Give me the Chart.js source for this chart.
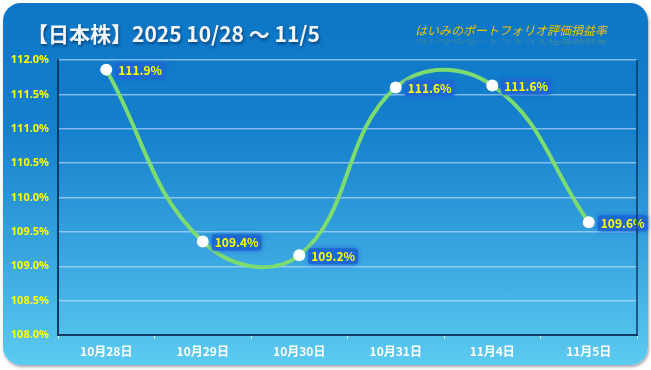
<!DOCTYPE html>
<html>
<head>
<meta charset="utf-8">
<script src="https://cdn.jsdelivr.net/npm/chart.js@4"></script>
<style>
  html, body { margin: 0; padding: 0; background: #fff; }
  #card {
    position: absolute; left: 3px; top: 3px; width: 645px; height: 362px;
    border-radius: 18px;
    background: linear-gradient(to bottom, #0c76c7 0%, #1580cc 35%, #3aa6e0 70%, #5ccbf1 100%);
    box-shadow: 1px 2px 3px rgba(0,0,0,0.35);
  }
  #wrap { position: absolute; left: 0; top: 0; width: 651px; height: 370px; }
</style>
</head>
<body>
<div id="card"></div>
<div id="wrap"><canvas id="chart" width="651" height="370"></canvas></div>
<script>
// data
const dates = ['10月28日', '10月29日', '10月30日', '10月31日', '11月4日', '11月5日'];
const rates = [111.86, 109.36, 109.16, 111.60, 111.63, 109.64];
const yTicks = [108.0, 108.5, 109.0, 109.5, 110.0, 110.5, 111.0, 111.5, 112.0];

const titleText = '【日本株】2025 10/28 ～ 11/5';
const subText = 'はいみのポートフォリオ評価損益率';

const jpFont = "'Noto Sans CJK JP', 'Noto Sans', sans-serif";

// title, subtitle and right frame line
const decoPlugin = {
    id: 'deco',
    afterDraw(chart) {
        const ctx = chart.ctx;
        const area = chart.chartArea;
        ctx.save();
        // right border of plot
        ctx.strokeStyle = '#0b3a66';
        ctx.lineWidth = 1.5;
        ctx.beginPath();
        ctx.moveTo(area.right, area.top);
        ctx.lineTo(area.right, area.bottom);
        ctx.stroke();

        // main title
        ctx.font = 'bold 21px ' + jpFont;
        ctx.textBaseline = 'middle';
        ctx.textAlign = 'left';
        ctx.shadowColor = 'rgba(0,30,70,0.6)';
        ctx.shadowOffsetX = 1;
        ctx.shadowOffsetY = 2;
        ctx.shadowBlur = 3;
        ctx.fillStyle = '#f4f8fc';
        ctx.fillText(titleText, 27, 34);

        // subtitle with faint reflection below it
        ctx.shadowColor = 'transparent';
        ctx.font = 'italic 12px ' + jpFont;
        ctx.textAlign = 'right';
        ctx.save();
        ctx.translate(0, 38);
        ctx.scale(1, -0.6);
        ctx.fillStyle = 'rgba(240,196,0,0.2)';
        ctx.fillText(subText, 607, -6);
        ctx.restore();
        ctx.fillStyle = '#f2c200';
        ctx.fillText(subText, 607, 30);
        ctx.restore();
    }
};

// value labels next to each point
const valueLabels = {
    id: 'valueLabels',
    afterDatasetsDraw(chart) {
        const ctx = chart.ctx;
        const meta = chart.getDatasetMeta(0);
        ctx.save();
        ctx.font = 'bold 12px ' + jpFont;
        ctx.textBaseline = 'middle';
        ctx.textAlign = 'left';
        meta.data.forEach((pt, i) => {
            const txt = rates[i].toFixed(1) + '%';
            const w = ctx.measureText(txt).width;
            const x = pt.x + 12;
            const y = pt.y + 1;
            ctx.shadowColor = 'rgba(30,100,220,0.9)';
            ctx.shadowBlur = 4;
            ctx.fillStyle = '#1e68d4';
            ctx.beginPath();
            ctx.roundRect(x - 3, y - 8, w + 6, 16, 3);
            ctx.fill();
            ctx.shadowBlur = 0;
            ctx.shadowColor = 'transparent';
            ctx.fillStyle = '#ffff00';
            ctx.fillText(txt, x, y);
        });
        ctx.restore();
    }
};

new Chart(document.getElementById('chart'), {
    type: 'line',
    data: {
        labels: dates,
        datasets: [{
            data: rates,
            borderColor: '#7ddc70',
            borderWidth: 4,
            tension: 0.42,
            pointRadius: 6,
            pointBackgroundColor: '#ffffff',
            pointBorderColor: '#ffffff',
            pointBorderWidth: 0,
            fill: false
        }]
    },
    options: {
        responsive: false,
        animation: false,
        layout: { padding: { top: 60, right: 14, left: 0, bottom: 0 } },
        plugins: {
            legend: { display: false },
            tooltip: { enabled: false }
        },
        scales: {
            x: {
                offset: true,
                afterFit: s => { s.height = 35; },
                grid: {
                    offset: true,
                    drawOnChartArea: false,
                    drawTicks: true,
                    tickLength: 4,
                    color: 'rgba(220,240,255,0.9)',
                    lineWidth: 1
                },
                border: { color: '#0b3a66', width: 2 },
                ticks: {
                    color: '#ffffff',
                    padding: 5,
                    font: { family: jpFont, size: 12, weight: 'bold' }
                }
            },
            y: {
                min: yTicks[0],
                max: yTicks[yTicks.length - 1],
                afterFit: s => { s.width = 58; },
                afterBuildTicks: s => { s.ticks = yTicks.map(v => ({ value: v })); },
                grid: {
                    drawTicks: false,
                    color: 'rgba(200,230,255,0.6)',
                    lineWidth: 1.5
                },
                border: { color: '#0b3a66', width: 2 },
                ticks: {
                    color: '#ffff00',
                    padding: 9,
                    font: { family: "'Noto Sans', sans-serif", size: 11, weight: 'bold' },
                    callback: v => Number(v).toFixed(1) + '%'
                }
            }
        }
    },
    plugins: [decoPlugin, valueLabels]
});
</script>
</body>
</html>
